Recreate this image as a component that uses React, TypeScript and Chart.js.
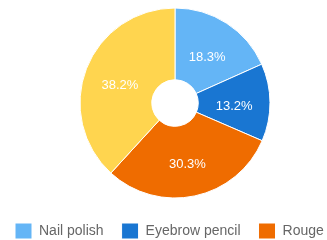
import React, { useEffect, useRef } from "react";
import { Chart, registerables } from "chart.js";

Chart.register(...registerables);

const categories = ["Nail polish", "Eyebrow pencil", "Rouge", "Lipstick"];
const shares = [18.3, 13.2, 30.3, 38.2];
const colors = ["#64B5F6", "#1976D2", "#EF6C00", "#FFD54F"];

const FONT = "'Liberation Sans', Arial, sans-serif";

const sliceLabels = {
  id: "sliceLabels",
  afterDatasetsDraw(chart: any) {
    const ctx = chart.ctx;
    const meta = chart.getDatasetMeta(0);
    ctx.save();
    ctx.font = `13px ${FONT}`;
    ctx.fillStyle = "#ffffff";
    ctx.textAlign = "center";
    ctx.textBaseline = "middle";
    meta.data.forEach((arc: any, i: number) => {
      const p = arc.tooltipPosition();
      ctx.fillText(shares[i].toFixed(1) + "%", p.x, p.y + 4);
    });
    ctx.restore();
  },
};

export default function App() {
  const ref = useRef<HTMLCanvasElement>(null);
  useEffect(() => {
    if (!ref.current) return;
    const chart = new Chart(ref.current, {
      type: "doughnut",
      data: {
        labels: categories,
        datasets: [
          {
            data: shares,
            backgroundColor: colors,
            borderColor: "#ffffff",
            borderWidth: 1,
          },
        ],
      },
      options: {
        animation: false,
        responsive: false,
        radius: 95,
        cutout: "24.5%",
        layout: { padding: 0 },
        plugins: {
          tooltip: { enabled: false },
          legend: {
            position: "bottom",
            align: "start",
            labels: {
              boxWidth: 17,
              boxHeight: 16,
              padding: 18,
              color: "#666666",
              font: { family: FONT, size: 14 },
            },
          },
        },
      },
      plugins: [sliceLabels],
    });
    return () => chart.destroy();
  }, []);
  return (
    <div
      style={{
        position: "fixed",
        left: 0,
        top: 0,
        width: 327,
        height: 240,
        overflow: "hidden",
        background: "#ffffff",
      }}
    >
      <canvas
        ref={ref}
        width={356}
        height={282}
        style={{ position: "absolute", left: -3, top: 1, width: 356, height: 282 }}
      />
    </div>
  );
}
